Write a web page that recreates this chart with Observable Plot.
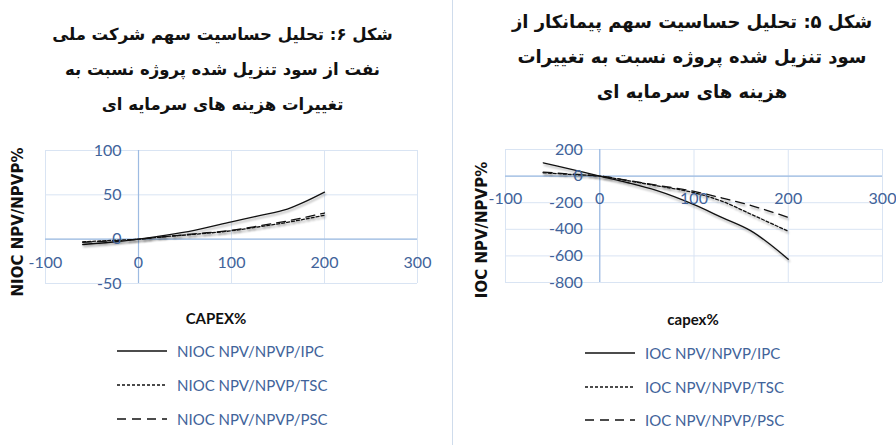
<!DOCTYPE html>
<html>
<head>
<meta charset="utf-8">
<script src="https://cdn.jsdelivr.net/npm/d3@7"></script>
<script src="https://cdn.jsdelivr.net/npm/@observablehq/plot@0.6"></script>
<style>
  body { margin:0; width:896px; height:445px; position:relative; background:#fff; overflow:hidden; font-family: Lato, "Open Sans", sans-serif; }
  .title { position:absolute; font-family:"DejaVu Sans", sans-serif; font-weight:bold; line-height:35px; text-align:center; direction:rtl; color:#111; white-space:nowrap; }
  .xtitle { position:absolute; font-weight:bold; font-size:15px; color:#111; transform:translate(-50%,-50%); white-space:nowrap; }
  .leg { position:absolute; display:flex; align-items:center; font-size:15px; color:#41639a; white-space:nowrap; transform:translateY(-50%); }
  .leg svg { margin-right:10px; }
  .panel { position:absolute; }
  .panel g[aria-label="line"] path { filter: drop-shadow(1px 2px 1.2px rgba(0,0,0,0.35)); }
  .sep { position:absolute; left:452px; top:0; width:1px; height:445px; background:#cfdcec; }
</style>
</head>
<body>
<script>
// ---- data ----
const capex = [-60, -30, 0, 30, 60, 100, 130, 160, 200];
const niocIPC = [-6, -3.5, 0, 4.5, 10, 19.5, 26.5, 34, 53];
const niocTSC = [-3, -1.5, 0, 3, 5.5, 9.5, 14, 19, 27];
const niocPSC = [-3.5, -2, 0, 3, 6, 10, 15, 20.5, 29.5];
const iocIPC = [100, 50, 0, -50, -108, -215, -312, -410, -625];
const iocTSC = [25, 12, 0, -35, -72, -125, -190, -285, -415];
const iocPSC = [30, 15, 0, -32, -68, -115, -165, -220, -310];
const xTicks = [-100, 0, 100, 200, 300];
const niocYTicks = [-50, 0, 50, 100];
const iocYTicks = [-800, -600, -400, -200, 0, 200];
const niocNames = ["NIOC NPV/NPVP/IPC", "NIOC NPV/NPVP/TSC", "NIOC NPV/NPVP/PSC"];
const iocNames = ["IOC NPV/NPVP/IPC", "IOC NPV/NPVP/TSC", "IOC NPV/NPVP/PSC"];
const niocTitle = ["شکل ۶: تحلیل حساسیت سهم شرکت ملی", "نفت از سود تنزیل شده پروژه نسبت به", "تغییرات هزینه های سرمایه ای"];
const iocTitle = ["شکل ۵: تحلیل حساسیت سهم پیمانکار از", "سود تنزیل شده پروژه نسبت به تغییرات", "هزینه های سرمایه ای"];

const dashes = [null, "3,2", "9,6"];
const tickColor = "#41639a";
const gridColor = "#d9e4f3";
const axisColor = "#9dbbe2";

function rows(names, arrays) {
  const out = [];
  names.forEach((n, k) => capex.forEach((c, i) => out.push({s: n, k, x: c, y: arrays[k][i]})));
  return out;
}

function makePlot(cfg) {
  const data = rows(cfg.names, cfg.series);
  return Plot.plot({
    width: cfg.width, height: 160,
    marginLeft: cfg.ml, marginRight: cfg.mr, marginTop: 10, marginBottom: 17,
    x: {domain: [-100, 300], axis: null},
    y: {domain: cfg.yDomain, axis: null},
    style: {fontFamily: "Lato, 'Open Sans', sans-serif", background: "transparent", overflow: "visible"},
    marks: [
      Plot.gridX(xTicks, {stroke: gridColor, strokeOpacity: 1, strokeWidth: 1}),
      Plot.gridY(cfg.yTicks, {stroke: gridColor, strokeOpacity: 1, strokeWidth: 1}),
      Plot.ruleX([0], {stroke: axisColor, strokeWidth: 1.2}),
      Plot.ruleY([0], {stroke: axisColor, strokeWidth: 1.2}),
      ...cfg.names.map((n, k) => Plot.line(data.filter(d => d.k === k), {
        x: "x", y: "y", stroke: "#111", strokeWidth: 1.3, strokeDasharray: dashes[k], curve: "monotone-x"
      })),
      Plot.text(cfg.yTicks, {x: 0, y: d => d, text: d => String(d), dx: -17, textAnchor: "end", fill: tickColor, fontSize: 16}),
      Plot.text(xTicks, {x: d => d, y: 0, text: d => String(d), dy: cfg.xdy, fill: tickColor, fontSize: 16}),
      Plot.text([cfg.ytitle], {frameAnchor: "left", textAnchor: "middle", rotate: -90, dx: cfg.ytdx, dy: cfg.ytdy,
        fill: "#111", fontWeight: "bold", fontSize: 15, fontFamily: "DejaVu Sans, sans-serif"})
    ]
  });
}

function addTitle(lines, left, top, width, size) {
  const d = document.createElement("div");
  d.className = "title";
  d.style.left = left + "px"; d.style.top = top + "px"; d.style.width = width + "px"; d.style.fontSize = size + "px";
  d.innerHTML = lines.join("<br>");
  document.body.appendChild(d);
}
function addXTitle(t, x, y) {
  const d = document.createElement("div");
  d.className = "xtitle"; d.textContent = t;
  d.style.left = x + "px"; d.style.top = y + "px";
  document.body.appendChild(d);
}
function addLegend(names, x, ys) {
  names.forEach((n, k) => {
    const d = document.createElement("div");
    d.className = "leg";
    d.style.left = x + "px"; d.style.top = ys[k] + "px";
    d.innerHTML = `<svg width="50" height="6"><line x1="0" x2="50" y1="3" y2="3" stroke="#111" stroke-width="1.3" ${dashes[k] ? `stroke-dasharray="${dashes[k]}"` : ""}/></svg><span>${n}</span>`;
    document.body.appendChild(d);
  });
}

const sep = document.createElement("div"); sep.className = "sep"; document.body.appendChild(sep);

// left panel (NIOC)
addTitle(niocTitle, 0, 17, 445, 16.5);
const p1 = makePlot({width: 450, ml: 45, mr: 33, yDomain: [-50, 100], yTicks: niocYTicks,
  names: niocNames, series: [niocIPC, niocTSC, niocPSC], xdy: 24, ytitle: "NIOC NPV/NPVP%", ytdx: -27, ytdy: 5});
const w1 = document.createElement("div"); w1.className = "panel"; w1.style.left = "0px"; w1.style.top = "140px";
w1.appendChild(p1); document.body.appendChild(w1);
addXTitle("CAPEX%", 216, 318);
addLegend(niocNames, 117, [351, 385, 419]);

// right panel (IOC)
addTitle(iocTitle, 460, 4, 464, 18);
const p2 = makePlot({width: 446, ml: 55, mr: 14, yDomain: [-800, 200], yTicks: iocYTicks,
  names: iocNames, series: [iocIPC, iocTSC, iocPSC], xdy: 23, ytitle: "IOC NPV/NPVP%", ytdx: -23, ytdy: 14});
const w2 = document.createElement("div"); w2.className = "panel"; w2.style.left = "450px"; w2.style.top = "139px";
w2.appendChild(p2); document.body.appendChild(w2);
addXTitle("capex%", 693, 319);
addLegend(iocNames, 585, [353, 387, 420]);
</script>
</body>
</html>
